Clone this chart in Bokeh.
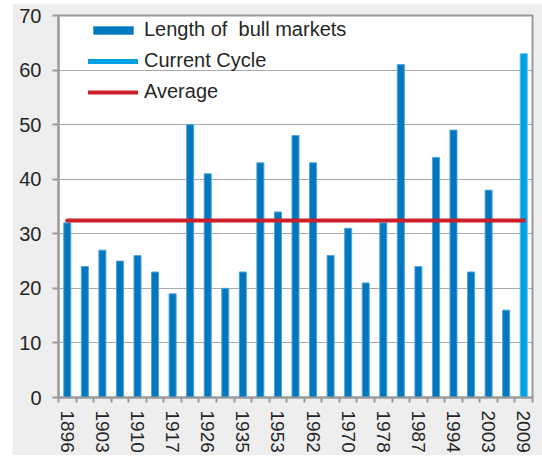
from bokeh.plotting import figure
from bokeh.models import FixedTicker, ColumnDataSource, Range1d
from bokeh.embed import file_html
from bokeh.resources import INLINE

# ---- data ----
tick_years = ["1896", "1903", "1910", "1917", "1926", "1935", "1953",
              "1962", "1970", "1978", "1987", "1994", "2003", "2009"]
bull_lengths = [32, 24, 27, 25, 26, 23, 19, 50, 41, 20, 23, 43, 34,
                48, 43, 26, 31, 21, 32, 61, 24, 44, 49, 23, 38, 16]
current_cycle = [63]
y_ticks = [0, 10, 20, 30, 40, 50, 60, 70]

# ---- derived ----
n_total = len(bull_lengths) + len(current_cycle)
x_hist = list(range(len(bull_lengths)))
x_curr = list(range(len(bull_lengths), n_total))
average = sum(bull_lengths) / len(bull_lengths)
label_pos = list(range(0, n_total, 2))
boundaries = [i - 0.5 for i in range(n_total + 1)]
nan = float("nan")

FONT = "Liberation Sans"
TXT = "#262626"

p = figure(width=530, height=452, output_backend="svg", toolbar_location=None,
           x_range=Range1d(-0.5, n_total - 0.5), y_range=Range1d(0, 70),
           min_border_left=46, min_border_right=10, min_border_top=12,
           min_border_bottom=57)
p.margin = (3, 0, 0, 12)

p.border_fill_color = "#eeeeee"
p.background_fill_color = "white"
p.outline_line_color = "#9a9a9a"
p.outline_line_width = 2

src_hist = ColumnDataSource(dict(x=x_hist, top=bull_lengths))
src_curr = ColumnDataSource(dict(x=x_curr, top=current_cycle))

# grid
p.xgrid.grid_line_color = None
p.ygrid.ticker = FixedTicker(ticks=y_ticks)
p.ygrid.grid_line_color = "#555555"
p.ygrid.grid_line_dash = "1 1"
p.ygrid.grid_line_width = 1

p.vbar(x="x", top="top", width=0.4, source=src_hist,
       fill_color="#0077bf", line_color="#4fa3dc", line_width=1,
       legend_label="Length of  bull markets")
p.vbar(x="x", top="top", width=0.4, source=src_curr,
       fill_color="#00a0e2", line_color="#4dbdea", line_width=1)
# legend-only entry for the current cycle (no visible data)
p.line(x=[x_curr[0], x_curr[0]], y=[nan, nan], line_color="#00a0e2",
       line_width=5, line_cap="round", legend_label="Current Cycle")
p.line(x=[x_hist[0], x_curr[-1]], y=[average, average], line_color="#cc1f27",
       line_width=4, line_cap="round", legend_label="Average")

# y axis
ya = p.yaxis[0]
ya.ticker = FixedTicker(ticks=y_ticks)
ya.axis_line_color = "#9a9a9a"
ya.axis_line_width = 2
ya.major_tick_line_color = "#9a9a9a"
ya.major_tick_line_width = 2
ya.major_tick_out = 6
ya.major_tick_in = 0
ya.minor_tick_line_color = None
ya.major_label_standoff = 11
ya.major_label_text_font = FONT
ya.major_label_text_font_size = "20px"
ya.major_label_text_color = TXT

# x axis
xa = p.xaxis[0]
xa.ticker = FixedTicker(ticks=label_pos, minor_ticks=boundaries)
xa.major_label_overrides = {pos: yr for pos, yr in zip(label_pos, tick_years)}
xa.major_label_orientation = "vertical"
xa.axis_line_color = "#9a9a9a"
xa.axis_line_width = 2
xa.major_tick_line_color = None
xa.major_tick_out = 0
xa.major_tick_in = 0
xa.minor_tick_line_color = "#9a9a9a"
xa.minor_tick_line_width = 2
xa.minor_tick_out = 5
xa.minor_tick_in = 0
xa.major_label_standoff = 8
xa.major_label_text_font = FONT
xa.major_label_text_font_size = "19px"
xa.major_label_text_color = TXT

# legend
lg = p.legend[0]
lg.location = (30, 294)
lg.margin = 0
lg.padding = 0
lg.background_fill_alpha = 0
lg.border_line_alpha = 0
lg.glyph_width = 50
lg.glyph_height = 10
lg.label_standoff = 6
lg.spacing = 8
lg.label_height = 23
lg.label_text_font = FONT
lg.label_text_font_size = "20px"
lg.label_text_color = TXT

open("out.html", "w").write(file_html(p, INLINE))
